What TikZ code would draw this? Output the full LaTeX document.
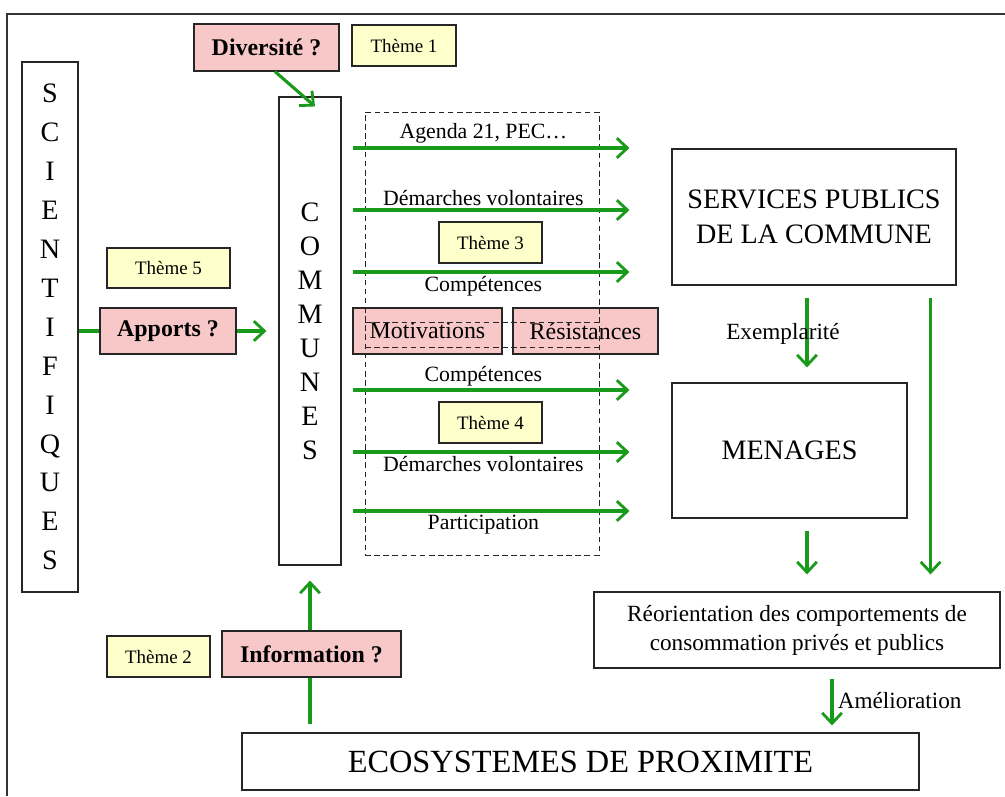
\documentclass[tikz,border=0pt]{standalone}
\usepackage{fontspec}
\setmainfont{Liberation Serif}
\usepackage{xcolor}
\usetikzlibrary{arrows.meta}
\definecolor{pinkfill}{HTML}{F8C8C8}
\definecolor{themefill}{HTML}{FFFFCC}
\definecolor{arrowgreen}{HTML}{1A9A1A}
\newlength\pxu
\setlength\pxu{0.025cm}

\tikzset{
  plainbox/.style={draw=black!85, line width=0.8pt, inner sep=0pt, align=center},
  pinkbox/.style={plainbox, fill=pinkfill, font=\fontsize{17}{20}\selectfont\bfseries},
  themebox/.style={plainbox, fill=themefill, minimum width=103\pxu, minimum height=41\pxu,
    font=\fontsize{13.5}{16}\selectfont},
  flowlabel/.style={font=\fontsize{15.5}{18}\selectfont, inner sep=2pt},
  grouping/.style={draw=black!85, line width=0.6pt, dash pattern=on 4pt off 2.5pt},
  gline/.style={draw=arrowgreen, line width=2.2pt},
  garrow/.style={gline, -{Straight Barb[length=7.5pt,width=14pt,line width=2pt]}},
}

\begin{document}
\begin{tikzpicture}[x=0.025cm, y=-0.025cm]
    \useasboundingbox (0,0) rectangle (1005,796);
    \fill[white] (0,0) rectangle (1005,796);
    \draw[line width=1.2pt, black!80] (7,796) -- (7,14) -- (1005,14);

    \node[plainbox, minimum width=56\pxu, minimum height=530\pxu,
          font=\fontsize{20}{27.7}\selectfont] (scien) at (50,327)
      {S\\C\\I\\E\\N\\T\\I\\F\\I\\Q\\U\\E\\S};
    \node[plainbox, minimum width=62\pxu, minimum height=468\pxu,
          font=\fontsize{20}{24.2}\selectfont] (communes) at (310,331)
      {C\\O\\M\\M\\U\\N\\E\\S};

    \node[pinkbox, minimum width=145\pxu, minimum height=47\pxu] (diversite) at (266.5,47.5) {Diversité ?};
    \node[themebox, minimum width=104\pxu] (theme1) at (404,45.5) {Thème 1};
    \node[themebox, minimum width=123\pxu, minimum height=40\pxu] (theme5) at (168.5,268) {Thème 5};
    \node[pinkbox, minimum width=136\pxu, minimum height=46\pxu] (apports) at (168,331) {Apports ?};
    \node[themebox] (theme3) at (490.5,242.5) {Thème 3};
    \node[themebox] (theme4) at (490.5,422.5) {Thème 4};
    \node[themebox] (theme2) at (158.5,656.5) {Thème 2};

    \node[pinkbox, font=\fontsize{17}{20}\selectfont, minimum width=149\pxu, minimum height=46\pxu]
      (motiv) at (427.5,331) {Motivations};
    \node[pinkbox, font=\fontsize{17}{20}\selectfont, minimum width=145\pxu, minimum height=46\pxu]
      (resist) at (585.5,331) {Résistances};

    % cadre pointillé des leviers
    \node[grouping, minimum width=234\pxu, minimum height=443\pxu] (leviers) at (482,333.5) {};
    \draw[grouping] (365,322) -- (599,322);
    \draw[grouping] (365,347) -- (599,347);

    \node[plainbox, minimum width=284\pxu, minimum height=136\pxu,
          font=\fontsize{20}{25}\selectfont] (services) at (814,217) {SERVICES PUBLICS\\DE LA COMMUNE};
    \node[plainbox, minimum width=235\pxu, minimum height=135\pxu,
          font=\fontsize{20}{24}\selectfont] (menages) at (789.5,450.5) {MENAGES};
    \node[plainbox, minimum width=406\pxu, minimum height=76\pxu,
          font=\fontsize{16.5}{20.6}\selectfont] (reorient) at (797,630)
      {Réorientation des comportements de\\consommation privés et publics};
    \node[plainbox, minimum width=677\pxu, minimum height=57\pxu,
          font=\fontsize{23}{26}\selectfont] (eco) at (580.5,761.5) {ECOSYSTEMES DE PROXIMITE};

    \foreach \yy/\txt/\side/\dest in {148/{Agenda 21, PEC…}/above/services,
        210/Démarches volontaires/above/services, 272/Compétences/below/services,
        390/Compétences/above/menages, 452/Démarches volontaires/below/menages,
        511/Participation/below/menages}
      \draw[garrow, shorten <=11\pxu, shorten >=42\pxu] (communes.east |- 0,\yy) -- (\dest.west |- 0,\yy)
        node[flowlabel, pos=0.43, \side] {\txt};

    \draw[garrow] ([xshift=8.5\pxu]diversite.south) -- ([xshift=5\pxu, yshift=-10\pxu]communes.north);
    \draw[gline] (scien.east |- apports.west) -- (apports.west);
    \draw[garrow, shorten >=12\pxu] (apports.east) -- (communes.west |- apports.east);

    \coordinate (exTop) at ([xshift=-7\pxu]services.south);
    \draw[garrow, shorten <=12\pxu, shorten >=15\pxu] (exTop) -- (exTop |- menages.north)
      node[midway, xshift=-24\pxu, font=\fontsize{16.5}{20}\selectfont] {Exemplarité};
    \coordinate (sideTop) at ([xshift=-26\pxu]services.south east);
    \draw[garrow, shorten <=12\pxu, shorten >=17\pxu] (sideTop) -- (sideTop |- reorient.north);
    \coordinate (menOut) at ([xshift=17.5\pxu]menages.south);
    \draw[garrow, shorten <=12\pxu, shorten >=17\pxu] (menOut) -- (menOut |- reorient.north);
    \coordinate (ameTop) at ([xshift=35\pxu]reorient.south);
    \draw[garrow, shorten <=10\pxu, shorten >=7\pxu] (ameTop) -- (ameTop |- eco.north)
      node[midway, right, inner sep=3pt, font=\fontsize{16.5}{20}\selectfont] {Amélioration};

    \coordinate (infoBot) at (communes.south |- eco.north);
    \draw[garrow, shorten <=8\pxu, shorten >=15\pxu] (infoBot) -- (communes.south);
    \node[pinkbox, minimum width=179\pxu, minimum height=46\pxu] (info) at (311.5,654) {Information ?};
\end{tikzpicture}
\end{document}
